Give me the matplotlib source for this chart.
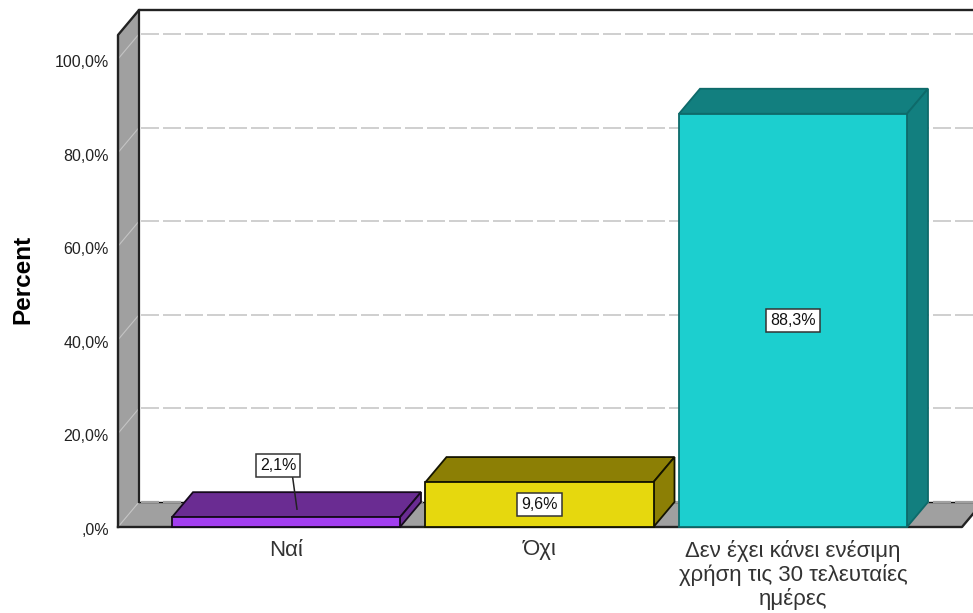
import matplotlib
matplotlib.use("Agg")
import matplotlib.pyplot as plt
from matplotlib.transforms import ScaledTranslation

plt.rcParams["font.family"] = ["Liberation Sans", "DejaVu Sans"]

categories = ["Ναί", "Όχι", "Δεν έχει κάνει ενέσιμη\nχρήση τις 30 τελευταίες\nημέρες"]
values = [2.1, 9.6, 88.3]
value_labels = ["2,1%", "9,6%", "88,3%"]
y_ticks = [0, 20, 40, 60, 80, 100]
y_tick_labels = [",0%", "20,0%", "40,0%", "60,0%", "80,0%", "100,0%"]

front_colors = ["#A23EF0", "#E6D80E", "#1CCFCF"]
dark_colors = ["#6A2C92", "#8C7F05", "#127F7F"]
edge_colors = ["#150A1C", "#141400", "#0E6A6A"]

fig = plt.figure(figsize=(9.73, 6.13), dpi=100)
ax = fig.add_axes([118 / 973, (613 - 527) / 613, (962 - 118) / 973, (527 - 35) / 613])

# one category step is 253.5 px, one percent is 4.68 px
px_x = 1 / 253.5
px_y = 1 / 4.68
dx = 21 * px_x
dy = 25 * px_y
x0 = -168 * px_x
x1 = 676 * px_x
y_top = 492 * px_y
bar_w = 228 * px_x

ax.set_xlim(x0, x1)
ax.set_ylim(0, y_top)
for s in ax.spines.values():
    s.set_visible(False)

# walls and floor
ax.fill([x0, x0, x0 + dx, x0 + dx], [0, y_top, y_top + dy, dy], color="#A0A0A0", ec="none", zorder=1, clip_on=False)
ax.fill([x0, x1, x1 + dx, x0 + dx], [0, 0, dy, dy], color="#A0A0A0", ec="none", zorder=1, clip_on=False)

dash = (10, (9, 2))
for t in y_ticks:
    if t == 0:
        ax.plot([x0 + dx, x1 + dx], [dy, dy], color="#111111", lw=1.0, zorder=2, clip_on=False)
        ax.plot([x0 + dx, x1 + dx], [dy, dy], color="#A0A0A0", lw=1.6, ls=(9, (8.1, 1.8)), zorder=2.1, clip_on=False)
    else:
        ax.plot([x0 + dx, x1 + dx], [t + dy, t + dy], color="#D0D0D0", lw=1.44, ls=dash, zorder=2, clip_on=False)
    ax.plot([x0, x0 + dx], [t, t + dy], color="#C4C4C4", lw=0.8, zorder=2, clip_on=False)

line_col = "#222222"
ax.plot([x0, x0, x0 + dx, x1 + dx], [0, y_top, y_top + dy, y_top + dy], color=line_col, lw=1.7, zorder=3, clip_on=False)
ax.plot([x0 + dx, x0 + dx], [dy, y_top + dy], color=line_col, lw=1.6, zorder=3, clip_on=False)
ax.plot([x0, x1, x1 + dx], [0, 0, dy], color=line_col, lw=1.7, zorder=3, clip_on=False)

# bars
x_pos = list(range(len(values)))
for i, v in enumerate(values):
    left = x_pos[i] - bar_w / 2
    right = x_pos[i] + bar_w / 2
    ax.fill([left, right, right + dx, left + dx], [v, v, v + dy, v + dy],
            fc=dark_colors[i], ec=edge_colors[i], lw=1.3, zorder=4, clip_on=False)
    ax.fill([right, right + dx, right + dx, right], [0, dy, v + dy, v],
            fc=dark_colors[i], ec=edge_colors[i], lw=1.3, zorder=4, clip_on=False)
ax.bar(x_pos, values, width=bar_w, color=front_colors, edgecolor=edge_colors, linewidth=1.3, zorder=5, clip_on=False)

# value labels
box = dict(boxstyle="square,pad=0.25", fc="white", ec="#333333", lw=1.1)
ax.plot([x_pos[0] + 5 * px_x, x_pos[0] + 11 * px_x], [13.2, values[0] + 8 * px_y], color="#222222", lw=1.1, zorder=6)
ax.text(x_pos[0] - 8 * px_x, 13.2, value_labels[0], fontsize=11.5, color="#111111",
        ha="center", va="center", bbox=box, zorder=7)
for i in [1, 2]:
    ax.text(x_pos[i], values[i] / 2, value_labels[i], fontsize=11.5, color="#111111",
            ha="center", va="center", bbox=box, zorder=7)

# axes text
ax.set_yticks(y_ticks)
ax.set_yticklabels(y_tick_labels, fontsize=11.5, color="#222222")
ax.set_xticks(x_pos)
ax.set_xticklabels(categories, fontsize=16, color="#333333", linespacing=1.12)
ax.tick_params(axis="y", length=0, pad=6.5)
ax.tick_params(axis="x", length=0, pad=9)
for lab in ax.get_yticklabels():
    lab.set_transform(lab.get_transform() + ScaledTranslation(0, -2 / 100, fig.dpi_scale_trans))
ax.set_ylabel("Percent", fontsize=17.5, fontweight="bold", color="black", labelpad=15)
ax.yaxis.label.set_y(0.504)

fig.savefig("out.png", dpi=100)
